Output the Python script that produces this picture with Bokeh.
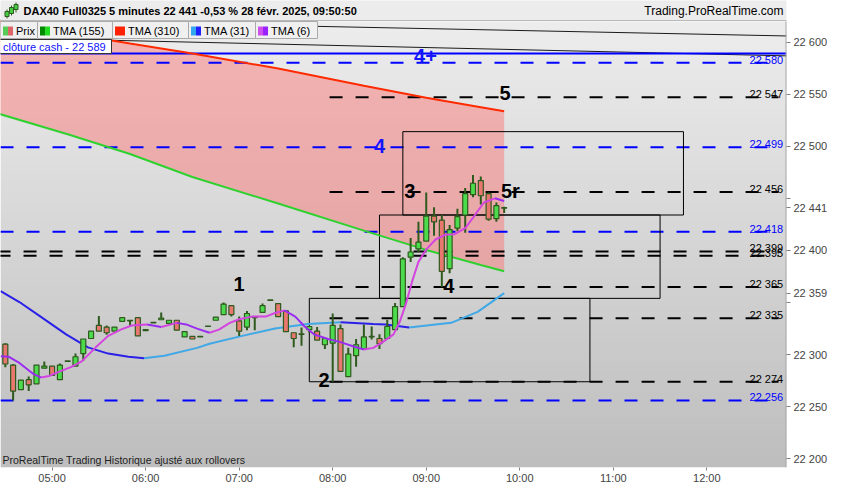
import numpy as np

from bokeh.core.properties import value
from bokeh.embed import file_html
from bokeh.models import FixedTicker, Range1d
from bokeh.plotting import figure
from bokeh.resources import INLINE

# time = minutes after 05:00, one bar every 5 minutes (04:30 .. 09:50)
bar_time = list(range(-30, 295, 5))
bar_open = [22310, 22290, 22266.5, 22276, 22272, 22287, 22289, 22276, 22293.5, 22289,
            22301, 22315.5, 22328, 22326.5, 22322.5, 22332, 22332.5, 22335.5, 22324, 22331,
            22333.5, 22330, 22333, 22317, 22317.5, 22317.5, 22327.5, 22333, 22338.5, 22347,
            22332.5, 22326.5, 22336, 22340.5, 22352.5, 22349, 22342, 22321, 22320, 22324,
            22322.5, 22309.5, 22311, 22325, 22279, 22299, 22305.5, 22317.5, 22315.5, 22315.5,
            22324, 22346, 22393.5, 22401.5, 22409, 22433, 22429, 22382.5, 22421.5, 22434,
            22453.5, 22467, 22454.5, 22430.5, 22440.5]
bar_high = [22311, 22291, 22275.5, 22279, 22290, 22293.5, 22289, 22291.5, 22294, 22301,
            22315, 22322.5, 22337, 22328, 22326.5, 22335.5, 22333, 22335.5, 22324, 22331,
            22340.5, 22333, 22333, 22322, 22317.5, 22317.5, 22327.5, 22336, 22350, 22347,
            22336.5, 22342, 22336, 22349, 22352.5, 22349, 22342, 22321, 22326, 22327,
            22326.5, 22315.5, 22339.5, 22329, 22306.5, 22315, 22329, 22327, 22319.5, 22333.5,
            22349.5, 22393.5, 22412, 22427.5, 22455.5, 22441.5, 22434, 22424.5, 22440, 22460,
            22472.5, 22471, 22455.5, 22446, 22442]
bar_low = [22288, 22256, 22266.5, 22265, 22272, 22287, 22280, 22276, 22293.5, 22289,
           22294, 22315.5, 22322.5, 22319, 22322.5, 22332, 22327, 22318, 22323, 22330.5,
           22333.5, 22330, 22323.5, 22317, 22315, 22317, 22327, 22333, 22338.5, 22336.5,
           22318, 22323.5, 22323.5, 22340.5, 22352, 22336.5, 22322, 22307, 22308.5, 22321,
           22314, 22305.5, 22274, 22284, 22279, 22288.5, 22305.5, 22314.5, 22305.5, 22315.5,
           22324, 22346, 22389, 22398.5, 22409, 22414, 22365, 22378, 22418.5, 22417,
           22451, 22444, 22428.5, 22427.5, 22436]
bar_close = [22291, 22265, 22275.5, 22271, 22290, 22289, 22280, 22290, 22294, 22298,
             22315, 22322.5, 22322.5, 22321, 22326.5, 22335.5, 22333, 22318, 22323, 22330.5,
             22335, 22333, 22323.5, 22322, 22315, 22317, 22327, 22336, 22348.5, 22338.5,
             22322.5, 22339.5, 22335.5, 22347, 22352, 22336.5, 22322, 22315.5, 22319.5, 22327,
             22314, 22315.5, 22328, 22284, 22300.5, 22309.5, 22317, 22317, 22310.5, 22327,
             22346, 22392, 22398.5, 22408, 22433, 22427.5, 22380, 22420, 22432.5, 22454.5,
             22464.5, 22452.5, 22430, 22443, 22441]

# moving averages
tma6_time = [-33, -28, -21, -12, -7, -2, 5, 12, 19, 28, 36, 44, 51, 61, 70, 80, 86, 93,
             101, 107, 114, 120, 128, 137, 143, 149, 156, 162, 168, 177, 185, 193, 200,
             206, 212, 219, 223, 227, 231, 235, 240, 246, 252, 258, 265, 271, 277, 284, 290]
tma6 = [22298.5, 22298, 22292, 22281.5, 22278, 22279.5, 22284, 22288, 22293.5, 22307,
        22318, 22324, 22328, 22329, 22326.5, 22330.5, 22329, 22325, 22321, 22324, 22330.5,
        22334, 22336.5, 22336.5, 22340, 22342.5, 22336.5, 22327, 22319.5, 22315, 22312,
        22308, 22305, 22306.5, 22312, 22319.5, 22331.5, 22349, 22370.5, 22389, 22401,
        22410.5, 22415, 22415.5, 22421.5, 22433.5, 22446, 22450, 22447.5]
tma31_time = [-33, -21, -6, 9, 23, 36, 49, 59, 72, 93, 101, 122, 143, 164, 185, 206, 214,
              229, 256, 273, 290]
tma31 = [22361, 22350.5, 22335, 22319.5, 22307, 22301, 22298, 22296.5, 22299, 22306.5,
         22310.5, 22318, 22325, 22329.5, 22331, 22329.5, 22329, 22326, 22330.5, 22341, 22359]
long_time = [-35, 10, 50, 90, 145, 200, 240, 275, 290]
tma155 = [22531.5, 22511.5, 22492.5, 22470.5, 22445, 22419, 22400.5, 22386, 22380]
tma310 = [22620, 22608.5, 22598.5, 22589, 22574.5, 22558, 22546.5, 22537.5, 22533.5]

trend_a_time = [-35, 472]
trend_a = [22621.3, 22605.8]
trend_b_time = [37, 472]
trend_b = [22601.7, 22586.7]

cash_close = 22589
blue_levels = [22580, 22499, 22418, 22256]
black_levels = [22547, 22456, 22399, 22395, 22365, 22335, 22274]
black_level_from = [178, 178, -35, -35, 178, 178, 178]

box_start = [225, 210, 165]
box_length = 180
box_top = [22514, 22434, 22354]
box_bottom = [22434, 22354, 22274]

wave_black = ["1", "2", "3", "4", "5", "5r"]
wave_black_time = [120, 174.5, 229.5, 254.5, 290.5, 294]
wave_black_price = [22367.5, 22275.5, 22457, 22366, 22551, 22457]
wave_blue = ["4", "4+"]
wave_blue_time = [210, 239.5]
wave_blue_price = [22500, 22587]

y_ticks = [22200, 22250, 22300, 22350, 22400, 22450, 22500, 22550, 22600]
x_ticks = [0, 60, 120, 180, 240, 300, 360, 420]
x_tick_labels = ["05:00", "06:00", "07:00", "08:00", "09:00", "10:00", "11:00", "12:00"]

legend_names = ["Prix", "TMA (155)", "TMA (310)", "TMA (31)", "TMA (6)"]
legend_colors = [("#55cc55", "#dd6666"), ("#008a00", "#22dd22"), ("#ff2200", "#ff2200"),
                 ("#33a8ee", "#2020ff"), ("#d050ee", "#9a20ff")]


def fmt(v):
    return f"{v:,.0f}".replace(",", " ")


FONT = "Liberation Sans"
FW, FH = 786, 467          # frame also holds the 21 px header strip
HEAD = 21
X0, X1 = -33.1, 471.1
Y0, CHART_TOP = 22191.7, 22619.7
K = (FH - HEAD) / (CHART_TOP - Y0)      # pixels per point
Y1 = CHART_TOP + HEAD / K
LEVEL_END = 466
LABEL_T = 469


def px(x):   # canvas column -> time
    return X0 + x * (X1 - X0) / FW


def py(y):   # canvas row -> price
    return Y1 - y / K


p = figure(frame_width=FW, frame_height=FH, x_range=Range1d(X0, X1), y_range=Range1d(Y0, Y1),
           y_axis_location="right", toolbar_location=None, output_backend="svg", title=None,
           min_border_left=0, min_border_right=48, min_border_top=0, min_border_bottom=17,
           border_fill_color="white", outline_line_color=None)
p.grid.visible = False

# grey gradient background of the price panel
n = 200
shade = np.linspace(190, 237, n).astype(np.uint8)
img = np.zeros((n, 1), dtype=np.uint32)
view = img.view(dtype=np.uint8).reshape((n, 1, 4))
view[:, 0, 0] = shade
view[:, 0, 1] = shade
view[:, 0, 2] = shade
view[:, 0, 3] = 255
p.image_rgba(image=[img], x=X0, y=Y0, dw=X1 - X0, dh=CHART_TOP - Y0)

# zone between TMA 155 and TMA 310
p.varea(x=long_time, y1=tma155, y2=tma310, fill_color="#ff6f6f", fill_alpha=0.45)

# thin long-term lines at the top
p.line(trend_a_time, trend_a, line_color="#1a1a1a", line_width=1)
p.line(trend_b_time, trend_b, line_color="#1a1a1a", line_width=1)

# levels
p.segment(x0=[X0] * len(blue_levels), x1=[LEVEL_END] * len(blue_levels), y0=blue_levels,
          y1=blue_levels, line_color="#0000ff", line_width=2, line_dash="13 13")
p.segment(x0=black_level_from, x1=[LEVEL_END] * len(black_levels), y0=black_levels,
          y1=black_levels, line_color="black", line_width=2, line_dash="13 13")
p.line([X0, X1], [cash_close, cash_close], line_color="#0000ff", line_width=2)

p.text(x=[LABEL_T] * len(blue_levels), y=blue_levels, text=[fmt(v) for v in blue_levels],
       text_font=value(FONT), text_font_size="11px", text_color="#0000ff",
       text_align="right", text_baseline="alphabetic", y_offset=-3)
p.text(x=[LABEL_T] * len(black_levels), y=black_levels, text=[fmt(v) for v in black_levels],
       text_font=value(FONT), text_font_size="11px", text_color="black",
       text_align="right", text_baseline="alphabetic", y_offset=-3)

# boxes
p.quad(left=box_start, right=[s + box_length for s in box_start], top=box_top,
       bottom=box_bottom, fill_color=None, line_color="black", line_width=1)


def two_tone(ts, vs, up, down, width):
    runs = {True: ([], []), False: ([], [])}
    rx, ry = [ts[0]], [vs[0]]
    rising = vs[1] >= vs[0]
    for i in range(1, len(ts)):
        r = vs[i] >= vs[i - 1]
        if r != rising:
            runs[rising][0].append(rx)
            runs[rising][1].append(ry)
            rx, ry = [ts[i - 1]], [vs[i - 1]]
            rising = r
        rx.append(ts[i])
        ry.append(vs[i])
    runs[rising][0].append(rx)
    runs[rising][1].append(ry)
    for key, color in ((True, up), (False, down)):
        if runs[key][0]:
            p.multi_line(runs[key][0], runs[key][1], line_color=color, line_width=width)


two_tone(long_time, tma310, "#ff2a00", "#ff2a00", 2)
two_tone(long_time, tma155, "#0a8a0a", "#2fd12f", 2)
two_tone(tma31_time, tma31, "#40a8e6", "#2a20e8", 2)

# candles
up_col, dn_col, edge = "#4cdb4c", "#e8776f", "#2f5a1e"
p.segment(x0=bar_time, y0=bar_low, x1=bar_time, y1=bar_high, line_color=edge, line_width=2)
p.vbar(x=bar_time, width=3.2,
       top=[max(o, c) for o, c in zip(bar_open, bar_close)],
       bottom=[min(o, c) for o, c in zip(bar_open, bar_close)],
       fill_color=[up_col if c >= o else dn_col for o, c in zip(bar_open, bar_close)],
       line_color=edge, line_width=1.2)

two_tone(tma6_time, tma6, "#d445e0", "#9a2cf2", 2)

# wave labels
p.text(x=wave_black_time, y=wave_black_price, text=wave_black, text_font=value(FONT),
       text_font_size="20px", text_font_style="bold", text_color="black",
       text_align="center", text_baseline="middle")
p.text(x=wave_blue_time, y=wave_blue_price, text=wave_blue, text_font=value(FONT),
       text_font_size="20px", text_font_style="bold", text_color="#1414ff",
       text_align="center", text_baseline="middle")

# right border of the price panel
p.segment(x0=[X1], y0=[Y0], x1=[X1], y1=[CHART_TOP], line_color="#a8a8a8", line_width=2)


# header strip and legend (canvas pixels converted to data)
def rect(l, t, r, b, fill, line=None):
    p.quad(left=[px(l)], right=[px(r)], top=[py(t)], bottom=[py(b)], fill_color=fill,
           line_color=line, line_width=1)


def note(x, y, text, size="11px", color="black", style="normal", align="left"):
    p.text(x=[px(x)], y=[py(y)], text=[text], text_font=value(FONT), text_font_size=size,
           text_color=color, text_font_style=style, text_align=align, text_baseline="middle")


rect(-2, -2, FW + 2, 20, "#ececec", "#b8b8b8")
for wl, wt, wr, wb in ((6, 9, 7, 18), (10.5, 5, 11.5, 15), (15, 2, 16, 12)):
    rect(wl, wt, wr, wb, "#2f5a1e")
for bl, bt, br, bb in ((4.5, 11, 8.5, 16), (9, 7, 13, 13), (13.5, 4, 17.5, 9)):
    rect(bl, bt, br, bb, "#44cc44", "#2f5a1e")
note(23, 10, f"DAX40 Full0325 5 minutes {fmt(bar_close[-1])} -0,53 % 28 févr. 2025, 09:50:50",
     size="11px", style="bold")
note(FW - 3, 10, "Trading.ProRealTime.com", size="12px", align="right")

edges = [0, 37, 112, 188, 255, 317]
for i, name in enumerate(legend_names):
    left, right = edges[i], edges[i + 1]
    rect(left, 21, right, 38, "#f0f0f0", "#aaaaaa")
    rect(left + 2.5, 26, left + 7.5, 35, legend_colors[i][0])
    rect(left + 7.5, 26, left + 12.5, 35, legend_colors[i][1])
    note(left + 15.5, 30, name)

rect(-2, 39, 111, 53, "white", "#333333")
note(2.5, 46.5, f"clôture cash -  {fmt(cash_close)}", color="#1010ff")

note(2, FH - 8, "ProRealTime Trading  Historique ajusté aux rollovers", size="10.5px",
     color="#222222")

# axes
tags = {bar_close[-1]: fmt(bar_close[-1]), tma31[-1]: fmt(tma31[-1])}
ya = p.yaxis[0]
ya.ticker = FixedTicker(ticks=y_ticks + list(tags))
labels = {v: fmt(v) for v in y_ticks}
labels[22450] = ""
labels[22350] = ""
labels.update(tags)
ya.major_label_overrides = labels
ya.major_label_text_font = FONT
ya.major_label_text_font_size = "11px"
ya.major_label_standoff = 3
ya.major_tick_in = 0
ya.major_tick_out = 4
ya.minor_tick_line_color = None
ya.axis_line_color = None
ya.major_tick_line_color = "#808080"

xa = p.xaxis[0]
xa.ticker = FixedTicker(ticks=x_ticks)
xa.major_label_overrides = dict(zip(x_ticks, x_tick_labels))
xa.major_label_text_font = FONT
xa.major_label_text_font_size = "11px"
xa.major_label_standoff = 1
xa.major_tick_in = 0
xa.major_tick_out = 3
xa.minor_tick_line_color = None
xa.axis_line_color = None
xa.major_tick_line_color = "#808080"

open("out.html", "w").write(file_html(p, INLINE))
